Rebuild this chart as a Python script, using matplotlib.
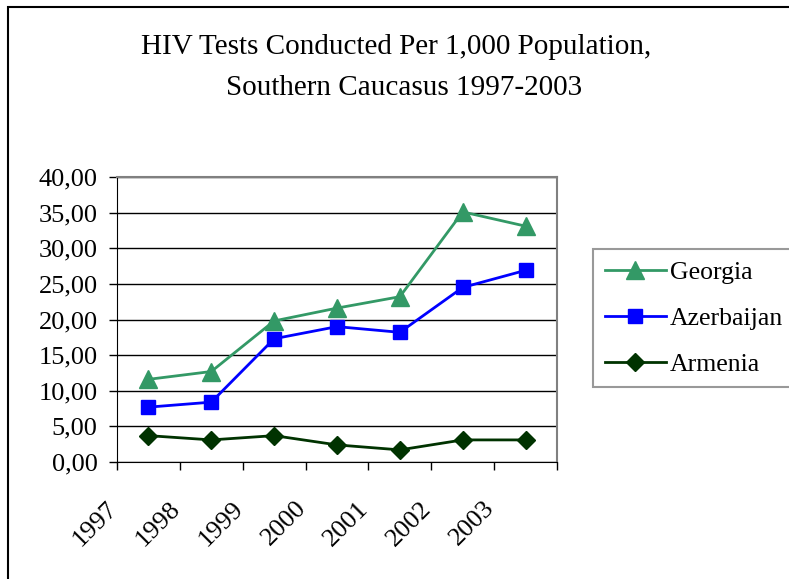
import matplotlib
matplotlib.use("Agg")
import matplotlib.pyplot as plt
from matplotlib.patches import Rectangle
from matplotlib.ticker import FuncFormatter, MultipleLocator

plt.rcParams['font.family'] = ['Liberation Serif', 'DejaVu Serif']

# data
years = ["1997", "1998", "1999", "2000", "2001", "2002", "2003"]
georgia = [11.6, 12.7, 19.8, 21.6, 23.2, 35.1, 33.1]
azerbaijan = [7.7, 8.4, 17.3, 19.0, 18.2, 24.5, 26.9]
armenia = [3.7, 3.1, 3.7, 2.4, 1.7, 3.1, 3.1]

W, H = 789, 579
fig = plt.figure(figsize=(W / 100, H / 100), dpi=100)
ax = fig.add_axes([117 / W, 1 - 462 / H, 440 / W, 285 / H])

x = list(range(len(years)))
ax.plot(x, georgia, color="#339966", lw=2, marker="^", ms=13.5, label="Georgia")
ax.plot(x, azerbaijan, color="#0000FF", lw=2, marker="s", ms=10, label="Azerbaijan")
ax.plot(x, armenia, color="#003300", lw=2, marker="D", ms=9, label="Armenia")

ax.set_xlim(-0.5, len(years) - 0.5)
ax.set_ylim(0, 40)
ax.yaxis.set_major_locator(MultipleLocator(5))
ax.yaxis.set_major_formatter(FuncFormatter(lambda v, p: f"{v:.2f}".replace(".", ",")))
ax.grid(axis="y", color="black", lw=1)
ax.set_axisbelow(True)
ax.tick_params(axis="y", direction="out", length=6, width=1, labelsize=19, pad=8)

# category boundaries as ticks, labels placed separately
ax.set_xticks([i - 0.5 for i in range(len(years) + 1)])
ax.set_xticklabels([])
ax.tick_params(axis="x", direction="out", length=6, width=1)
for i, yr in enumerate(years):
    ax.text(i - 0.55, -43 / 285, yr, transform=ax.get_xaxis_transform(),
            rotation=45, ha="right", va="center", rotation_mode="anchor", fontsize=19)

for s in ["left", "bottom"]:
    ax.spines[s].set_color("black")
for s in ["top", "right"]:
    ax.spines[s].set_color("#808080")
    ax.spines[s].set_linewidth(1.5)

fig.text(396 / W, 1 - 47 / H, "HIV Tests Conducted Per 1,000 Population,",
         ha="center", va="center", fontsize=21)
fig.text(404 / W, 1 - 88 / H, "Southern Caucasus 1997-2003",
         ha="center", va="center", fontsize=21)

leg = fig.legend(loc="upper left", bbox_to_anchor=(593 / W, 1 - 249 / H), borderaxespad=0,
                 fancybox=False, edgecolor="#808080", fontsize=18.5, handlelength=2.4,
                 handletextpad=0.15, labelspacing=0.9, borderpad=0.45)
leg.get_frame().set_linewidth(1.5)

# outer chart border (only top and left visible)
fig.add_artist(Rectangle((8 / W, -0.2), 1.2, 1.2 - 7 / H, transform=fig.transFigure,
                         fill=False, edgecolor="black", lw=1.5))

fig.savefig("out.png", dpi=100)
